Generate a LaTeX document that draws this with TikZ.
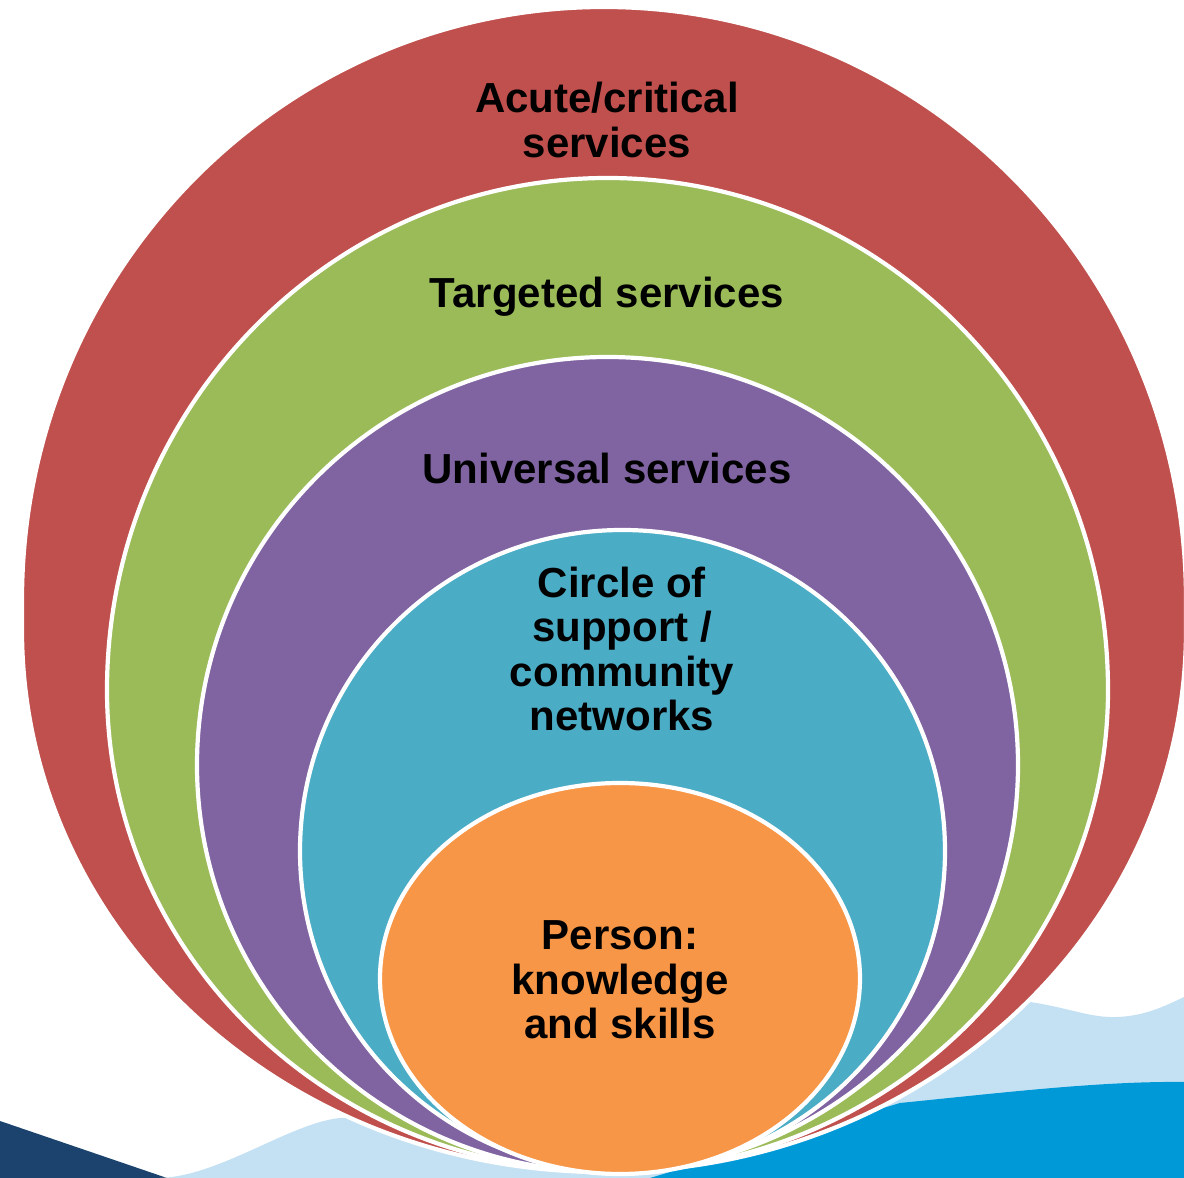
\documentclass[tikz,border=0pt]{standalone}
\usepackage{fontspec}
\setmainfont{Liberation Sans}
\definecolor{ringred}{HTML}{C0504D}
\definecolor{ringgreen}{HTML}{9BBB59}
\definecolor{ringpurple}{HTML}{8064A2}
\definecolor{ringteal}{HTML}{4BACC6}
\definecolor{ringorange}{HTML}{F79646}
\definecolor{wavenavy}{HTML}{1B436E}
\definecolor{wavelight}{HTML}{C4E1F4}
\definecolor{waveblue}{HTML}{0099D8}
% egg-shaped ring: centre x, upper centre y, lower centre y,
% x radius, upper y radius, lower y radius, colour
\newcommand\ringshape[7]{%
  \path[ring=#7] ({#1+#4},#2)
    arc[start angle=0,end angle=180,x radius=#4,y radius=#5]
    -- ({#1-#4},#3)
    arc[start angle=180,end angle=360,x radius=#4,y radius=#6] -- cycle;}
\begin{document}
\begin{tikzpicture}[x=1pt,y=1pt,
  ring/.style={fill=#1,draw=white,line width=4.2pt},
  ringtext/.style={font=\bfseries\fontsize{42}{44.5}\selectfont,align=center,text=black,inner sep=0pt}]
\useasboundingbox (0,0) rectangle (1184,1178);
\begin{scope}
\clip (0,0) rectangle (1184,1178);
% waves along the bottom edge
\fill[wavenavy] (0,57) -- (167,0) -- (0,0) -- cycle;
\fill[wavelight] (160,0) .. controls (220,2) and (290,55) .. (340,60)
  .. controls (360,61) and (380,55) .. (420,40) -- (1000,170)
  -- (1030,176) .. controls (1070,170) and (1090,160) .. (1117,161)
  .. controls (1145,162) and (1165,172) .. (1184,181) -- (1184,0) -- cycle;
\fill[waveblue] (650,0) -- (900,75) .. controls (1000,85) and (1100,97) .. (1184,96)
  -- (1184,0) -- cycle;
% nested rings, outermost first
\ringshape{604}{578}{548}{582}{593}{542}{ringred}
\ringshape{607.5}{488}{488}{500.5}{512}{482}{ringgreen}
\ringshape{607.5}{413}{413}{410.5}{408}{407}{ringpurple}
\ringshape{622.5}{327}{327}{322.5}{321}{321}{ringteal}
\ringshape{620}{199.5}{199.5}{240}{195.5}{195.5}{ringorange}
\end{scope}
% ring labels
\node[ringtext] (acute) at (607,1058) {Acute/critical\\services};
\node[ringtext] (targeted) at (607,881) {Targeted services};
\node[ringtext] (universal) at (607,710) {Universal services};
\node[ringtext] (support) at (622,529) {Circle of\\support /\\community\\networks};
\node[ringtext] (person) at (620,198) {Person:\\knowledge\\and skills};
\end{tikzpicture}
\end{document}
